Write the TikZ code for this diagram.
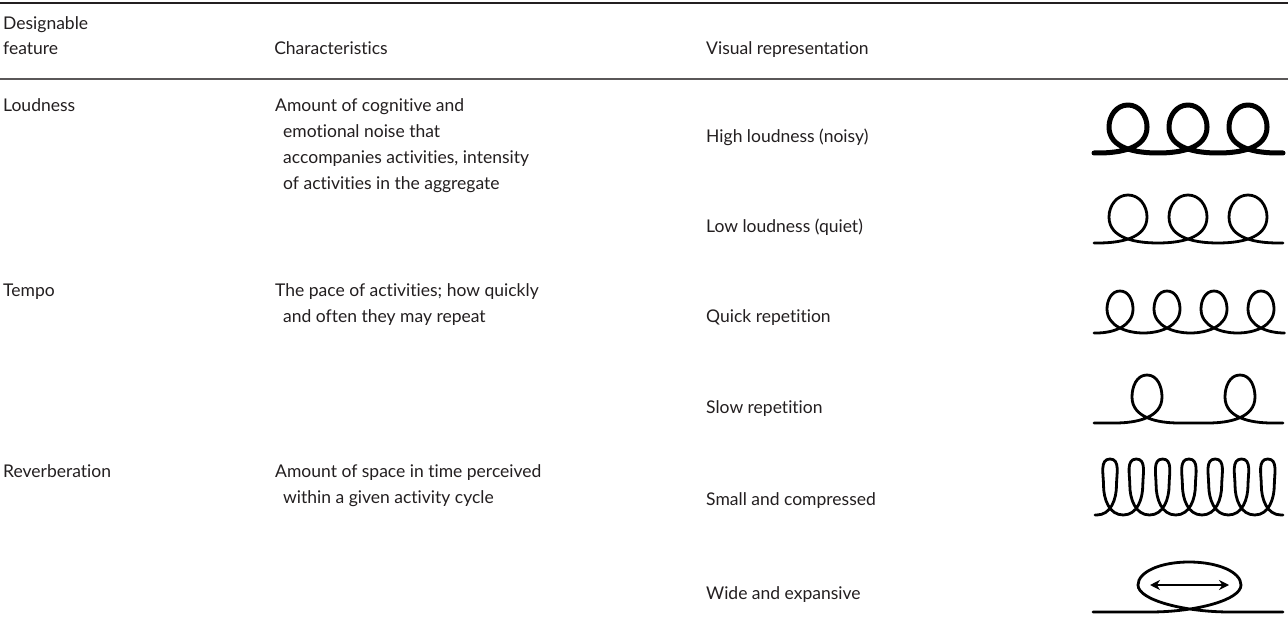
\documentclass[tikz,border=0pt]{standalone}
\usepackage{fontspec}
\setmainfont{Lato}[Ligatures=NoCommon]
\usetikzlibrary{arrows.meta}
\definecolor{ink}{HTML}{231F20}
\begin{document}
\begin{tikzpicture}[x=1pt,y=1pt,
  txt/.style={anchor=base west, inner sep=0pt, text=ink, font=\fontsize{17.5}{20}\selectfont},
  hdr/.style={txt},
  rulethick/.style={draw=ink, line width=1.5pt},
  rulethin/.style={draw=ink!75, line width=1.1pt},
  loopthick/.style={draw=black, line width=5pt, line cap=round, line join=round},
  loopthin/.style={draw=black, line width=2.8pt, line cap=round, line join=round}]
\useasboundingbox (0,0) rectangle (1288,630);
\fill[white] (0,0) rectangle (1288,630);
% rules
\draw[rulethick] (0,627) -- (1288,627);
\draw[rulethin] (0,551) -- (1288,551);
% header
\node[hdr] (h1a) at (3,600) {Designable};
\node[hdr] (h1b) at (3,575) {feature};
\node[hdr, anchor=base] (h2) at (331,575) {Characteristics};
\node[hdr] (h3) at (706,575) {Visual representation};
% Loudness row
\node[txt] (f1) at (3,518) {Loudness};
\node[txt] (c1a) at (275,518) {Amount of cognitive and};
\node[txt] (c1b) at (283,492) {emotional noise that};
\node[txt] (c1c) at (283,466) {accompanies activities, intensity};
\node[txt] (c1d) at (283,440) {of activities in the aggregate};
\node[txt] (v1) at (706,487) {High loudness (noisy)};
\node[txt] (v2) at (706,397) {Low loudness (quiet)};
% Tempo row
\node[txt] (f2) at (3,333) {Tempo};
\node[txt] (c2a) at (275,333) {The pace of activities; how quickly};
\node[txt] (c2b) at (283,307) {and often they may repeat};
\node[txt] (v3) at (706,307) {Quick repetition};
\node[txt] (v4) at (706,217) {Slow repetition};
% Reverberation row
\node[txt] (f3) at (3,153) {Reverberation};
\node[txt] (c3a) at (275,153) {Amount of space in time perceived};
\node[txt] (c3b) at (283,127) {within a given activity cycle};
\node[txt] (v5) at (706,125) {Small and compressed};
\node[txt] (v6) at (706,31) {Wide and expansive};
% High loudness loops
\begin{scope}[shift={(0,477)}]
\draw[loopthick] (1094,0) \foreach \c in {1128,1188,1248}{ -- ({\c-30},0) to[out=0,in=270] ({\c+19},26) to[out=90,in=0] (\c,48) to[out=180,in=90] ({\c-19},26) to[out=270,in=180] ({\c+30},0) } -- (1283,0);
\end{scope}
% Low loudness loops
\begin{scope}[shift={(0,387)}]
\draw[loopthin] (1094,0) \foreach \c in {1128,1188,1248}{ -- ({\c-30},0) to[out=0,in=270] ({\c+19},26) to[out=90,in=0] (\c,48) to[out=180,in=90] ({\c-19},26) to[out=270,in=180] ({\c+30},0) } -- (1283,0);
\end{scope}
% Quick repetition
\begin{scope}[shift={(0,297)}]
\draw[loopthin] (1094,0) \foreach \c in {1120,1167,1214,1261}{ -- ({\c-23.5},0) to[out=0,in=270] ({\c+13},24) to[out=90,in=0] (\c,42) to[out=180,in=90] ({\c-13},24) to[out=270,in=180] ({\c+23.5},0) } -- (1283,0);
\end{scope}
% Slow repetition
\begin{scope}[shift={(0,207)}]
\draw[loopthin] (1094,0) \foreach \c in {1147,1240}{ -- ({\c-32},0) to[out=0,in=270] ({\c+15},26) to[out=90,in=0] (\c,48) to[out=180,in=90] ({\c-15},26) to[out=270,in=180] ({\c+32},0) } -- (1283,0);
\end{scope}
% Small and compressed
\begin{scope}[shift={(0,115)}]
\draw[loopthin] (1095,0) \foreach \c in {1110,1136.3,1162.6,1188.9,1215.2,1241.5,1267.8}{ -- ({\c-13.15},0) to[out=0,in=270] ({\c+6.5},30) to[out=90,in=0] (\c,56) to[out=180,in=90] ({\c-6.5},30) to[out=270,in=180] ({\c+13.15},0) } -- (1283,0);
\end{scope}
% Wide and expansive
\begin{scope}[shift={(0,18)}]
\draw[loopthin] (1093,0) -- (1150,0) .. controls (1196,0) and (1241,12) .. (1241,27) .. controls (1241,40) and (1218,50) .. (1189,50) .. controls (1160,50) and (1138,40) .. (1138,27) .. controls (1138,12) and (1184,0) .. (1230,0) -- (1283,0);
\draw[line width=2.2pt, {Stealth[length=10pt,width=10pt]}-{Stealth[length=10pt,width=10pt]}] (1150,27) -- (1229,27);
\end{scope}
\end{tikzpicture}
\end{document}
